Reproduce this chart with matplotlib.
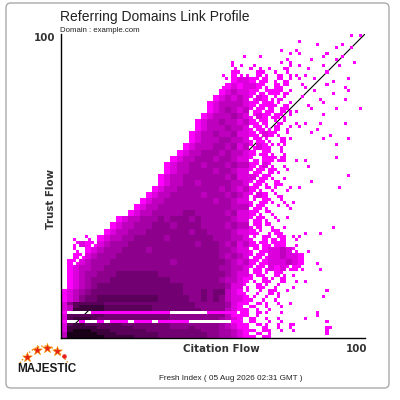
import numpy as np
import matplotlib
matplotlib.use("Agg")
import matplotlib.pyplot as plt
from matplotlib.colors import ListedColormap, BoundaryNorm
from matplotlib.patches import FancyBboxPatch

plt.rcParams['font.family'] = ['Liberation Sans', 'DejaVu Sans']

title = "Referring Domains Link Profile"
domain = "Domain : example.com"
index_note = "Fresh Index ( 05 Aug 2026 02:31 GMT )"
x_label = "Citation Flow"
y_label = "Trust Flow"
axis_max = "100"

# domain density per cell: '.' = none, 1 = few ... 9 = many,
# 'o' = a single dot, 'd' = two scattered dots
# columns: Citation Flow 0-100 in steps of 2 (groups of 10 columns)
# upper rows: Trust Flow 100 down to 12, steps of 2
upper_rows = [
    ".......... .......... .......... .......... .......o.o",
    ".......... .......... .......... .........o ..o...o...",
    ".......... .......... .......... ......o.o. .....o.o..",
    ".......... .......... .......... o.o....o.o ...d..o...",
    ".......... .......... ........o. ......od.. .o...o..o.",
    ".......... .......... ........do .do.o.od.o o..o.o....",
    ".......... .......... ......o.1d o.1d.dodo. o..o......",
    ".......... .......... .......o12 21d1.ddd.o .o..o..o..",
    ".......... .......... ......o121 221d.1do.o o..o..o...",
    ".......... .......... ......1232 21dd11dd.. .o..o..o..",
    ".......... .......... .....12323 2d21odd..o ..o...o...",
    ".......... .......... ....123333 21d11dod.. o..o......",
    ".......... .......... ....123432 3d1d1.1do. .o...o...o",
    ".......... .......... ...1233343 2d21d1do.. ...o......",
    ".......... .......... ..12334332 31d1.dd.o. o.o...o...",
    ".......... .......... ..12333433 2d1do1.d.o ..o.......",
    ".......... .......... .123343342 21d21d.o.. .o..o.....",
    ".......... .......... .123334433 2d1do.1o.. ...o...o..",
    ".......... .......... 1233344342 3d21dod... .....o....",
    ".......... .........1 2334443433 21o1d.d... ..........",
    ".......... ........12 3344434432 2do11d1.o. o....o....",
    ".......... .......123 3443444343 31d2d.o... o.........",
    ".......... .......123 3444434432 2d1o1d.o.. ..........",
    ".......... ......1233 4444444342 22d1d.o... .......o..",
    ".......... ......1233 4434444433 2d1d.1o... .o........",
    ".......... .....12334 4444443432 31dodo.d.o .....o....",
    ".......... ....123344 4443444343 2d21.do... ..........",
    ".......... ...1233444 4444434432 2do1d.d.o. ..........",
    ".......... ..12334444 4444444433 3d1d.o.d.. ..........",
    ".......... .123344444 5544444342 21dod..... ..........",
    ".........1 2334445455 5454444432 2d1d.d.o.. ..........",
    "........12 3344455545 5554444343 3d1od.o... ....o.....",
    ".......123 3444555555 5455444432 21d.d1o... o.o.......",
    "..o.d.1233 4455555455 5555544433 2d.1dd1.do ..........",
    "..d21d2344 4555555555 5545554342 31d1d11.o. ..........",
    "..d.123444 5555455555 5555554432 2dd12232d. o.........",
    "..1d234445 5555555555 5555554343 2d1d223221 ..........",
    ".1d2344455 5555555545 5555555432 31d1222321 ..o.......",
    ".123344555 5555555555 5555554433 2d1d212d1d ..o.......",
    ".123445556 6666665555 5555555432 2d1d.1d.o. ..........",
    ".123455566 6666666655 5555554332 1d.1d.1.o. o.........",
    ".123456666 6666666666 5555555422 d.1d.d..o. ..........",
    "1234566666 6666666666 5556566321 d.d.1d.o.. ...o......",
    "1235667777 7777776666 6556565322 1d.d.d.... ...o......",
]
# lower rows: Trust Flow 11 down to 0, one row per point
lower_rows = [
    "2577777666 6666666666 6655555421 1.1o.o.o.. ..........",
    "2378888777 7777766666 6655555421 .1.o..o... ..........",
    "2388888777 7777766666 6665555321 1.o.o..... ..........",
    "1....11111 11111111.. ....11111o 1.1o..o... ..o.......",
    "2777777666 6666666655 5555555311 1.o....... ..o.......",
    "2788876666 6666666655 5555554321 .1.o.o.... o.........",
    "1..1..1.11 1.111.1111 1.......11 .1..o.o... ...o......",
    "2788777777 6666666655 5555554321 1.1o.o.oo. ..........",
    "2888887777 7766666655 5655554321 1..1.o.o.. ...oo.....",
    "2899988877 7777666666 6665554432 11.1o.o.o. ...o......",
    "3999998887 7777776666 6666554432 1.1.o..... ...o......",
    "3999999888 8877776666 6666554432 11.1o..... ..........",
]

level_colors = ["#ff00ff", "#dc00dc", "#be00be", "#a500a5", "#8c008c",
                "#730073", "#5a005a", "#3c003c", "#190019"]


def clean(row):
    return row.replace(" ", "").ljust(50, ".")[:50]


# spread the rows onto a 100 x 100 grid of single flow points
density = np.full((100, 100), np.nan)
for r, row in enumerate(upper_rows):
    tf = 98 - 2 * r
    for j, c in enumerate(clean(row)):
        cf = 2 * j
        if c.isdigit():
            density[tf:tf + 2, cf:cf + 2] = int(c)
        elif c == "o":
            density[tf + j % 2, cf + (j // 2 + r) % 2] = 1
        elif c == "d":
            flip = (j + r) % 2
            density[tf + flip, cf] = 1
            density[tf + 1 - flip, cf + 1] = 1
for k, row in enumerate(lower_rows):
    tf = 11 - k
    for j, c in enumerate(clean(row)):
        cf = 2 * j
        if c.isdigit():
            density[tf, cf:cf + 2] = int(c)
        elif c in "od":
            density[tf, cf + j % 2] = 1

cmap = ListedColormap(level_colors)
norm = BoundaryNorm(np.arange(0.5, 10.5), cmap.N)
edges = np.arange(0, 101)

fig = plt.figure(figsize=(4, 4), dpi=100)


def fx(x):
    return x / 400


def fy(y):
    return 1 - y / 400


fig.patches.append(FancyBboxPatch((fx(6), fy(388)), fx(383), 385 / 400,
                                  boxstyle="round,pad=0,rounding_size=0.012",
                                  transform=fig.transFigure, facecolor="white",
                                  edgecolor="#aaaaaa", linewidth=1.0, zorder=-1))

ax = fig.add_axes([fx(61), fy(338), fx(304), 304 / 400])
ax.set_facecolor("none")
ax.plot([0, 100], [0, 100], color="black", linewidth=0.8, zorder=1)
ax.pcolormesh(edges, edges, np.ma.masked_invalid(density), cmap=cmap, norm=norm, zorder=2)
ax.set_xlim(0, 100)
ax.set_ylim(0, 100)
ax.set_xticks([])
ax.set_yticks([])
for side in ["top", "right"]:
    ax.spines[side].set_visible(False)
for side in ["left", "bottom"]:
    ax.spines[side].set_color("black")
    ax.spines[side].set_linewidth(1.0)

fig.text(fx(60), fy(20.5), title, fontsize=10, color="#222222", va="baseline")
fig.text(fx(60), fy(32.3), domain, fontsize=5.6, color="#222222", va="baseline")

bold = dict(family="DejaVu Sans", fontweight="bold", fontsize=7.4, color="#333333")
fig.text(fx(55), fy(38), axis_max, ha="right", va="center", **bold)
fig.text(fx(51), fy(199), y_label, ha="center", va="center", rotation=90, **bold)
fig.text(fx(221), fy(349), x_label, ha="center", va="center", **bold)
fig.text(fx(357), fy(349), axis_max, ha="center", va="center", **bold)

fig.text(fx(231), fy(380), index_note, fontsize=5.85, color="#222222",
         ha="center", va="baseline")

# Majestic logo
logo = fig.add_axes([0, 0, 1, 1])
logo.set_facecolor("none")
logo.set_xlim(0, 400)
logo.set_ylim(400, 0)
logo.axis("off")
t = np.linspace(0, 1, 40)
arc_x = 20 + 48 * t
arc_y = 363 - 68 * t * (1 - t)
logo.plot(arc_x, arc_y, linestyle=(0, (1, 1.5)), color="#f08a00", linewidth=1.0)
logo.scatter([26.7, 36.5, 46.5, 56.5], [356.5, 349.5, 347.5, 350.5], marker="*",
             s=55, color="#e62117", edgecolors="#f5a000", linewidths=0.4, zorder=3)
logo.scatter([64], [356], marker="o", s=5, color="#e62117", zorder=3)
fig.text(fx(17), fy(372.5), "MAJESTIC", fontsize=8.5, fontweight="bold",
         color="#1a1a1a", va="baseline")

fig.savefig("out.png", dpi=100)
